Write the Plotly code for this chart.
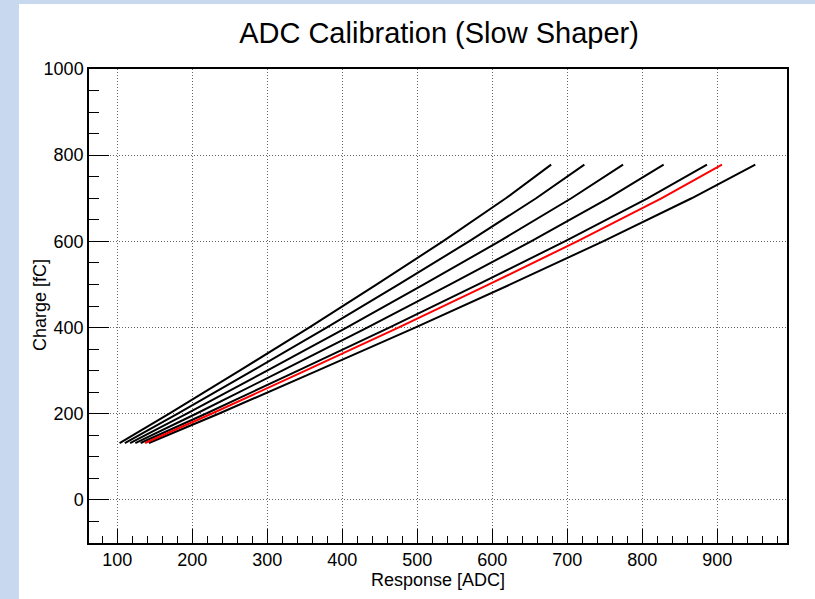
import plotly.graph_objects as go

# Charge levels (fC) at which each calibration curve is sampled
charge = [132, 200, 300, 400, 500, 600, 700, 778]

# ADC response for each channel curve
adc_ch1 = [103, 169.2, 263.0, 355.6, 445.9, 534.0, 618.0, 678.4]
adc_ch2 = [110, 180.5, 280.3, 379.0, 475.2, 568.9, 658.4, 722.7]
adc_ch3 = [117, 192.6, 299.7, 405.6, 508.7, 609.3, 705.3, 774.3]
adc_ch4 = [124, 205.0, 319.8, 433.2, 543.8, 651.6, 754.4, 828.4]
adc_ch5 = [131, 217.8, 340.9, 462.5, 581.1, 696.6, 806.9, 886.2]
adc_red = [137, 225.5, 350.8, 474.7, 595.4, 713.1, 825.4, 906.2]
adc_ch7 = [142, 235.0, 366.8, 497.0, 623.9, 747.6, 865.7, 950.6]

x_ticks = [100, 200, 300, 400, 500, 600, 700, 800, 900]
y_ticks = [0, 200, 400, 600, 800, 1000]

series = [
    (adc_ch1, "black"),
    (adc_ch2, "black"),
    (adc_ch3, "black"),
    (adc_ch4, "black"),
    (adc_ch5, "black"),
    (adc_ch7, "black"),
    (adc_red, "#ff0000"),
]

fig = go.Figure()
for xs, col in series:
    fig.add_trace(go.Scatter(x=xs, y=charge, mode="lines",
                             line=dict(color=col, width=2), showlegend=False))

W, H = 815, 599
L, R, T, B = 89, 28, 69, 56
pw, ph = W - L - R, H - T - B

def px(xp):
    return (xp - L) / pw

def py(yp):
    return (H - B - yp) / ph

font = "Liberation Sans, Arial, Helvetica, sans-serif"
fig.update_layout(
    width=W, height=H,
    margin=dict(l=L, r=R, t=T, b=B, pad=0),
    paper_bgcolor="#c8d9ef",
    plot_bgcolor="white",
    font=dict(family=font, color="black", size=18),
    title=dict(text="ADC Calibration (Slow Shaper)", x=px(439), xref="paper",
               xanchor="center", y=1 - 33 / H, yanchor="middle",
               font=dict(size=29, family=font, color="black")),
    shapes=[
        dict(type="rect", xref="paper", yref="paper", layer="below",
             x0=px(19), x1=px(W + 2), y0=py(H + 2), y1=py(4),
             fillcolor="white", line=dict(width=0)),
    ],
    annotations=[
        dict(text="Charge [fC]", xref="paper", yref="paper",
             x=px(40), y=py(305), xanchor="center", yanchor="middle",
             textangle=-90, showarrow=False, font=dict(size=18)),
    ],
)

grid_dash = "1px,2px"
fig.update_xaxes(
    range=[62.2, 992.9], tickvals=x_ticks, ticktext=[str(v) for v in x_ticks],
    ticks="inside", ticklen=14, tickwidth=1, tickcolor="black",
    showline=True, linecolor="black", linewidth=1.5, mirror=True,
    showgrid=True, gridcolor="#666666", griddash=grid_dash, gridwidth=1,
    zeroline=False,
    minor=dict(dtick=20, tick0=0, ticks="inside", ticklen=7, tickcolor="black", showgrid=False),
    tickfont=dict(size=18),
    title=dict(text="Response [ADC]", font=dict(size=18), standoff=2),
)
fig.update_yaxes(
    range=[-100, 1000], tickvals=y_ticks, ticktext=[str(v) for v in y_ticks],
    ticks="inside", ticklen=20, tickwidth=1, tickcolor="black",
    showline=True, linecolor="black", linewidth=1.5, mirror=True,
    showgrid=True, gridcolor="#666666", griddash=grid_dash, gridwidth=1,
    zeroline=False,
    minor=dict(dtick=50, tick0=0, ticks="inside", ticklen=10, tickcolor="black", showgrid=False),
    tickfont=dict(size=18),
)

fig.write_html("out.html", config={"displayModeBar": False},
               post_script="document.body.style.margin='0';document.body.style.padding='0';")
